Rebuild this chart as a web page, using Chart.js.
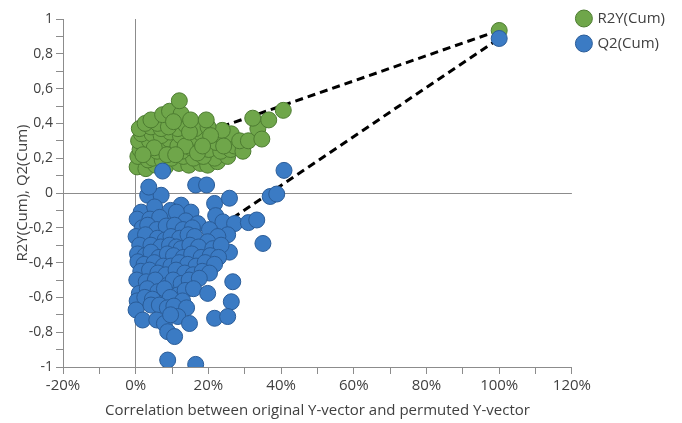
<!DOCTYPE html>
<html>
<head>
<meta charset="utf-8">
<script src="https://cdn.jsdelivr.net/npm/chart.js@4"></script>
<style>
  body { margin: 0; background: #fff; }
  #wrap { width: 682px; height: 423px; }
</style>
</head>
<body>
<div id="wrap"><canvas id="permChart"></canvas></div>
<script>
// permutation test: correlation (%) vs R2Y / Q2
const r2yPoints = [
    [0.4, 0.15], [2.8, 0.14], [5.5, 0.16], [8.2, 0.15], [11.9, 0.17], [14.6, 0.16], [17.8, 0.17], [19.8, 0.16], [22.5, 0.18],
    [0.6, 0.21], [3.4, 0.19], [4.7, 0.2], [7.3, 0.19], [9.8, 0.2], [13.1, 0.21], [15.9, 0.2], [21.7, 0.2], [25.3, 0.21], [18.6, 0.21],
    [1.2, 0.25], [2.9, 0.27], [5.9, 0.24], [7.9, 0.25], [10.6, 0.26], [12.7, 0.24], [15.2, 0.26], [17.5, 0.245], [20.1, 0.25], [23.4, 0.24], [26.1, 0.25],
    [0.8, 0.3], [3.8, 0.3], [6.4, 0.29], [9.1, 0.31], [11.6, 0.27], [14.1, 0.3], [16.7, 0.29], [19.3, 0.3], [22.2, 0.29], [24.7, 0.3], [27.2, 0.27],
    [1.6, 0.34], [4.5, 0.34], [7, 0.33], [9.5, 0.35], [12.3, 0.33], [15.7, 0.32], [18.1, 0.34], [21.7, 0.34], [26.3, 0.34], [23.8, 0.36],
    [1, 0.37], [4.2, 0.38], [7, 0.37], [11.6, 0.37], [13.8, 0.39], [16.4, 0.37], [19.9, 0.38], [2.6, 0.4],
    [5.1, 0.26], [8.6, 0.22], [13.6, 0.27], [17, 0.23], [20.6, 0.33], [24.2, 0.27], [6, 0.4], [9, 0.38], [2, 0.22], [11, 0.22], [14.8, 0.35], [18.4, 0.27],
    [4.2, 0.42], [7.4, 0.45], [9.3, 0.47], [12.5, 0.455], [10.4, 0.41], [15.1, 0.42], [19.4, 0.42], [12, 0.53],
    [29.5, 0.24], [28.6, 0.3], [31, 0.3], [33.6, 0.37], [34.7, 0.31], [32.2, 0.43], [36.6, 0.42], [40.6, 0.475],
    [100, 0.934]
];

const q2Points = [
    [3.3, -0.013], [7, -0.013], [12.5, -0.07], [15.2, -0.11], [21.7, -0.06], [1.5, -0.11], [5.2, -0.08], [9.6, -0.1], [11.2, -0.11],
    [0.4, -0.15], [3.9, -0.15], [6.6, -0.14], [13.8, -0.16], [22, -0.13], [24, -0.166], [27.2, -0.176], [31, -0.17], [33.3, -0.155], [17.1, -0.176],
    [1.8, -0.2], [3.3, -0.185], [5.8, -0.21], [8.4, -0.19], [10.7, -0.185], [13, -0.21], [15.6, -0.2], [20.3, -0.21], [25.3, -0.24], [22.6, -0.25],
    [0.1, -0.25], [2.7, -0.24], [6, -0.26], [8.1, -0.27], [9.7, -0.25], [12.1, -0.26], [14.4, -0.24], [16.2, -0.25], [19.8, -0.28], [35, -0.29],
    [1.1, -0.3], [4.2, -0.3], [6.9, -0.31], [9.3, -0.3], [11.2, -0.31], [12.5, -0.32], [14.9, -0.3], [17.3, -0.31], [21.2, -0.32], [25.8, -0.34], [23.5, -0.3],
    [0.5, -0.35], [2.6, -0.36], [4.2, -0.34], [6.4, -0.37], [8.7, -0.35], [10.4, -0.36], [13.1, -0.37], [15.4, -0.35], [18, -0.37], [20.5, -0.36], [22.8, -0.37],
    [0.6, -0.395], [2.3, -0.41], [5.1, -0.4], [7.6, -0.42], [9.7, -0.42], [12, -0.4], [14.3, -0.41], [16.6, -0.42], [19.1, -0.4], [21.7, -0.41],
    [1.4, -0.45], [3.8, -0.443], [6.1, -0.46], [8.3, -0.47], [11.1, -0.443], [13.5, -0.46], [15.8, -0.47], [18.3, -0.45], [20.3, -0.46],
    [0.3, -0.5], [2.9, -0.51], [5.4, -0.5], [8.8, -0.53], [10.3, -0.5], [12.5, -0.52], [14.7, -0.5], [17.5, -0.49], [26.7, -0.51],
    [1, -0.577], [3.2, -0.55], [6.1, -0.567], [7.9, -0.55], [11.6, -0.586], [13.6, -0.56], [15.9, -0.55], [19.8, -0.577],
    [0.4, -0.62], [2.5, -0.6], [4.6, -0.61], [9.5, -0.6], [12.9, -0.62], [26.3, -0.625],
    [0.1, -0.672], [4.2, -0.644], [6.5, -0.644], [8.7, -0.66], [10.5, -0.65], [14, -0.66],
    [1.9, -0.73], [5.8, -0.73], [7.9, -0.75], [11.6, -0.71], [14.8, -0.75], [21.7, -0.72], [25.3, -0.71], [9.6, -0.7],
    [8.8, -0.797], [10.7, -0.825], [8.8, -0.96], [16.5, -0.985],
    [3.6, 0.034], [7.4, 0.126], [16.5, 0.046], [19.5, 0.046], [25.8, -0.03], [37, -0.02], [38.8, -0.006], [40.8, 0.13],
    [100, 0.888]
];

// regression lines (intercept at 0%, end at 100%)
const r2yLine = [[0, 0.21], [100, 0.934]];
const q2Line = [[0, -0.52], [100, 0.888]];

const xTicks = { min: -20, max: 120, step: 10 };
const yTicks = { min: -1, max: 1, step: 0.1 };

const toXY = arr => arr.map(p => ({ x: p[0], y: p[1] }));

const textColor = '#404040';
const axisColor = '#8c8c8c';
const fontFam = '"Open Sans", "Noto Sans", sans-serif';

// pull the legend up to the top edge like the original
const legendNudge = {
    id: 'legendNudge',
    afterLayout(chart) {
        const lg = chart.legend;
        if (!lg) return;
        lg.top -= 18; lg.bottom -= 18;
        lg.left -= 4; lg.right -= 4;
    }
};

const ctx = document.getElementById('permChart').getContext('2d');
new Chart(ctx, {
    type: 'scatter',
    plugins: [legendNudge],
    data: {
        datasets: [
            {
                label: 'Q2(Cum)',
                data: toXY(q2Points),
                backgroundColor: '#3b7bc4',
                borderColor: '#2a5c98',
                borderWidth: 1,
                pointRadius: 8,
                pointStyle: 'circle'
            },
            {
                label: 'R2Y(Cum)',
                data: toXY(r2yPoints),
                backgroundColor: '#6fa64a',
                borderColor: '#4d7c31',
                borderWidth: 1,
                pointRadius: 8,
                pointStyle: 'circle'
            },
            {
                label: 'r2y-line',
                data: toXY(r2yLine),
                showLine: true,
                borderColor: '#000',
                borderWidth: 3,
                borderDash: [8, 5],
                pointRadius: 0
            },
            {
                label: 'q2-line',
                data: toXY(q2Line),
                showLine: true,
                borderColor: '#000',
                borderWidth: 3,
                borderDash: [8, 5],
                pointRadius: 0
            }
        ]
    },
    options: {
        responsive: true,
        maintainAspectRatio: false,
        animation: false,
        layout: { padding: { left: 10, top: 19, right: 3, bottom: 1 } },
        plugins: {
            tooltip: { enabled: false },
            legend: {
                position: 'right',
                align: 'start',
                labels: {
                    usePointStyle: true,
                    boxWidth: 12,
                    boxHeight: 12,
                    padding: 10,
                    color: textColor,
                    font: { family: fontFam, size: 15 },
                    filter: item => item.datasetIndex < 2,
                    sort: (a, b) => b.datasetIndex - a.datasetIndex
                }
            }
        },
        scales: {
            x: {
                type: 'linear',
                min: xTicks.min,
                max: xTicks.max,
                border: { display: true, color: axisColor },
                grid: {
                    drawOnChartArea: true,
                    color: c => (c.tick && Math.abs(c.tick.value) < 1e-9) ? axisColor : 'rgba(0,0,0,0)',
                    tickColor: axisColor,
                    tickLength: 7
                },
                ticks: {
                    stepSize: xTicks.step,
                    autoSkip: false,
                    maxRotation: 0,
                    padding: 3,
                    color: textColor,
                    font: { family: fontFam, size: 15 },
                    callback: v => (Math.round(v) % 20 === 0) ? Math.round(v) + '%' : ''
                },
                title: {
                    display: true,
                    text: 'Correlation between original Y-vector and permuted Y-vector',
                    color: textColor,
                    font: { family: fontFam, size: 15 },
                    padding: { top: 4, bottom: 2 }
                }
            },
            y: {
                type: 'linear',
                min: yTicks.min,
                max: yTicks.max,
                afterFit: s => { s.width = 53; },
                border: { display: true, color: axisColor },
                grid: {
                    drawOnChartArea: true,
                    color: c => (c.tick && Math.abs(c.tick.value) < 1e-9) ? axisColor : 'rgba(0,0,0,0)',
                    tickColor: axisColor,
                    tickLength: 7
                },
                ticks: {
                    stepSize: yTicks.step,
                    autoSkip: false,
                    padding: 3,
                    color: textColor,
                    font: { family: fontFam, size: 14 },
                    callback: v => {
                        const k = Math.round(v * 10);
                        if (k % 2 !== 0) return '';
                        return (k / 10).toString().replace('.', ',');
                    }
                },
                title: {
                    display: true,
                    text: 'R2Y(Cum), Q2(Cum)',
                    color: textColor,
                    font: { family: fontFam, size: 15 },
                    padding: { top: 4, bottom: 4 }
                }
            }
        }
    }
});
</script>
</body>
</html>
